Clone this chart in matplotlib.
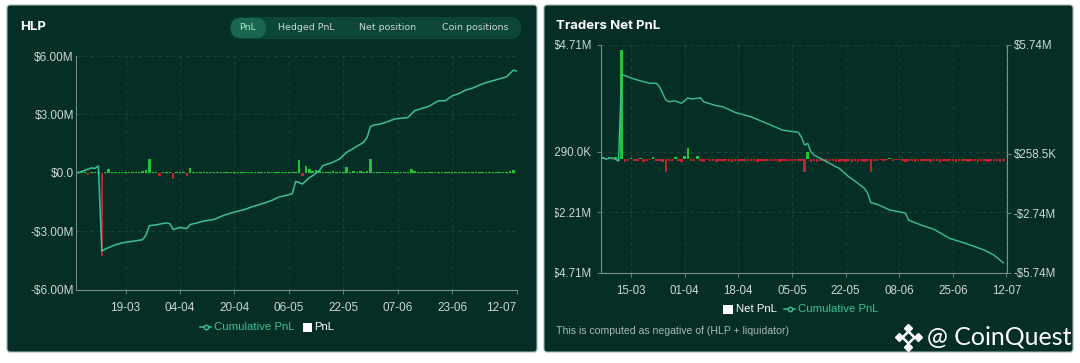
import numpy as np
import matplotlib
matplotlib.use("Agg")
import matplotlib.pyplot as plt
import matplotlib.dates as mdates
from matplotlib.patches import FancyBboxPatch, Rectangle
from matplotlib.lines import Line2D
from matplotlib.transforms import Bbox, TransformedBbox

# ---------------- data ----------------
START = np.datetime64('2023-03-01')

# HLP cumulative PnL (day offset from 1 Mar, $M)
hlp_cum_days = [4, 6, 8, 9, 10, 11, 12, 13, 15, 17, 19, 21, 23, 24, 25, 27, 28, 30, 31, 32,
                34, 35, 36, 37, 39, 41, 44, 47, 50, 53, 55, 58, 61, 63, 65, 67, 68, 69, 70, 71,
                72, 73, 75, 76, 78, 79, 81, 83, 85, 88, 89, 90, 91, 93, 95, 97, 99, 101, 103, 105,
                107, 110, 112, 114, 116, 118, 120, 122, 124, 127, 130, 132, 133]
hlp_cum_vals = [0.0, 0.12, 0.25, 0.22, 0.35, -4.03, -3.92, -3.85, -3.70, -3.60, -3.55, -3.50, -3.44, -3.20, -2.72, -2.68, -2.64, -2.58, -2.62, -2.92,
                -2.81, -2.84, -2.87, -2.66, -2.58, -2.48, -2.40, -2.18, -2.02, -1.89, -1.76, -1.60, -1.42, -1.25, -1.17, -1.08, -0.45, -0.50, -0.58, -0.42,
                -0.25, -0.15, 0.12, 0.37, 0.48, 0.54, 0.72, 1.05, 1.25, 1.57, 1.82, 2.37, 2.45, 2.51, 2.62, 2.76, 2.80, 2.84, 3.19, 3.30,
                3.40, 3.70, 3.70, 3.95, 4.07, 4.25, 4.35, 4.50, 4.63, 4.78, 4.93, 5.27, 5.23]

# HLP daily PnL ($M), first day = offset 4
hlp_pnl_first = 4
hlp_pnl = [0.03, 0.02, 0.03, -0.12, 0.02, 0.03, 0.05, -4.28, 0.04, 0.20,
           0.02, 0.03, 0.05, 0.04, 0.02, 0.06, 0.03, 0.02, 0.05, 0.08,
           0.12, 0.72, 0.04, 0.03, -0.18, 0.05, 0.04, 0.06, -0.34, 0.03,
           0.05, 0.04, -0.15, 0.26, 0.04, 0.03, 0.05, 0.02, 0.04, 0.03,
           0.05, 0.04, 0.03, 0.06, 0.04, 0.05, 0.03, 0.04, 0.05, 0.03,
           0.04, 0.05, 0.03, 0.04, 0.06, 0.03, 0.04, 0.05, 0.03, 0.04,
           0.05, 0.04, 0.03, 0.05, 0.04, 0.66, -0.15, 0.37, 0.20, 0.08,
           0.15, 0.10, 0.06, 0.05, 0.04, 0.08, 0.05, 0.06, 0.04, 0.29,
           0.06, 0.08, 0.05, 0.07, 0.06, 0.09, 0.72, 0.05, 0.03, 0.04,
           0.03, 0.02, 0.04, 0.03, 0.02, 0.03, 0.04, 0.05, 0.20, 0.08,
           0.04, 0.05, 0.03, 0.04, 0.03, 0.05, 0.04, 0.02, 0.03, 0.04,
           0.06, 0.05, 0.04, 0.03, 0.06, 0.05, 0.04, 0.03, 0.05, 0.04,
           0.03, 0.04, 0.05, 0.03, 0.04, 0.06, 0.05, 0.08, 0.15]

# Traders net PnL daily ($M), first day = offset 5
tr_pnl_first = 5
tr_pnl = [0.06, -0.03, 0.08, -0.05, 0.06, -0.08, 4.50, -0.12, -0.08, 0.05,
          -0.09, -0.10, 0.04, -0.11, -0.08, -0.06, 0.06, -0.10, -0.09, -0.11,
          -0.53, -0.08, -0.10, 0.09, -0.08, -0.11, 0.10, 0.44, -0.10, -0.08,
          0.10, -0.08, -0.15, -0.06, -0.10, -0.09, -0.11, -0.07, -0.09, -0.10,
          -0.09, -0.11, -0.07, -0.09, -0.10, -0.09, -0.07, -0.10, -0.09, -0.11,
          -0.09, -0.10, -0.08, -0.07, -0.10, -0.09, -0.11, -0.09, -0.07, -0.10,
          -0.09, -0.10, -0.08, -0.07, -0.53, 0.30, -0.15, -0.09, -0.12, -0.10,
          -0.09, -0.12, -0.10, -0.09, -0.11, -0.12, -0.10, -0.15, -0.10, -0.12,
          -0.10, -0.12, -0.10, -0.12, -0.10, -0.53, -0.08, -0.10, -0.06, -0.08,
          -0.06, 0.03, -0.08, -0.06, -0.05, -0.09, -0.14, -0.10, -0.09, -0.12,
          -0.10, -0.09, -0.07, -0.10, -0.12, -0.10, -0.09, -0.12, -0.10, -0.09,
          -0.10, -0.09, -0.12, -0.10, -0.09, -0.10, -0.12, -0.09, -0.10, -0.12,
          -0.10, -0.09, -0.12, -0.10, -0.09, -0.10, -0.14, -0.10]

# Traders cumulative PnL ($M)
tr_cum_days = [5, 6, 8, 10, 11, 13, 15, 18, 20, 22, 23, 25, 26, 28, 30, 32, 33, 35, 36, 37,
               41, 43, 47, 52, 57, 62, 64, 67, 68, 69, 70, 71, 72, 75, 79, 80, 83, 85, 88, 89,
               90, 92, 96, 100, 101, 102, 106, 110, 115, 120, 126, 129, 132]
tr_cum_vals = [0.06, -0.01, 0.06, -0.11, 4.26, 4.14, 4.02, 3.89, 3.81, 3.81, 3.64, 2.97, 2.88, 2.92, 2.80, 3.08, 3.02, 3.05, 3.08, 2.88,
               2.68, 2.63, 2.34, 2.12, 1.79, 1.45, 1.40, 1.34, 1.10, 0.70, 0.78, 0.36, 0.19, -0.06, -0.40, -0.48, -0.90, -1.12, -1.49, -1.74,
               -2.21, -2.29, -2.58, -2.70, -2.74, -3.09, -3.34, -3.55, -4.01, -4.26, -4.60, -4.85, -5.24]

hlp_yticks = [-6, -3, 0, 3, 6]
hlp_ylabels = ['-$6.00M', '-$3.00M', '$0.0', '$3.00M', '$6.00M']
hlp_xticks = ['2023-03-19', '2023-04-04', '2023-04-20', '2023-05-06', '2023-05-22',
              '2023-06-07', '2023-06-23', '2023-07-12']
tr_yticks = [4.71, 0.29, -2.21, -4.71]
tr_ylabels = ['$4.71M', '$290.0K', '-$2.21M', '-$4.71M']
tr_y2ticks = [5.74, 0.2585, -2.74, -5.74]
tr_y2labels = ['$5.74M', '$258.5K', '-$2.74M', '-$5.74M']
tr_xticks = ['2023-03-15', '2023-04-01', '2023-04-18', '2023-05-05', '2023-05-22',
             '2023-06-08', '2023-06-25', '2023-07-12']
toggle_labels = ['PnL', 'Hedged PnL', 'Net position', 'Coin positions']

# ---------------- style ----------------
BG = '#052e27'
PILL = '#0b4637'
PILL_SEL = '#1b6650'
TEAL = '#3dbf9b'
GREEN = '#22c437'
RED = '#c8202c'
TXT = '#cdd8d3'
AX = '#7d908a'
TF = ['Liberation Sans', 'DejaVu Sans']

W, H = 1080, 363
fig = plt.figure(figsize=(W / 100, H / 100), dpi=100, facecolor='white')

bg = fig.add_axes([0, 0, 1, 1])
bg.set_xlim(0, W)
bg.set_ylim(H, 0)
bg.axis('off')

for (x0, y0, x1, y1) in [(7, 5, 537, 352), (544, 5, 1073, 352)]:
    bg.add_patch(FancyBboxPatch((x0, y0), x1 - x0, y1 - y0,
                                boxstyle='round,pad=0,rounding_size=3',
                                fc=BG, ec='#9fb9b1', lw=0.8))

# titles
bg.text(20, 27, 'HLP', color='white', fontsize=9.5, fontweight='bold',
        family=['Inter', 'DejaVu Sans'], va='center', ha='left')
bg.text(556, 26, 'Traders Net PnL', color='white', fontsize=9.5, fontweight='bold',
        family=['Inter', 'DejaVu Sans'], va='center', ha='left')

# toggle pill
bg.add_patch(FancyBboxPatch((230, 17), 291, 22, boxstyle='round,pad=0,rounding_size=11',
                            fc=PILL, ec='none'))
bg.add_patch(FancyBboxPatch((231, 18), 35, 20, boxstyle='round,pad=0,rounding_size=10',
                            fc=PILL_SEL, ec='none'))
for lab, cx in zip(toggle_labels, [248, 306, 388, 475]):
    bg.text(cx, 28, lab, color=('#a8e6c8' if lab == 'PnL' else TXT), fontsize=6.8,
            family=['DejaVu Sans'], ha='center', va='center')


def fax(x0, y0, x1, y1):
    return fig.add_axes([x0 / W, 1 - y1 / H, (x1 - x0) / W, (y1 - y0) / H])


def days(lst):
    return START + np.array(lst).astype('timedelta64[D]')


def style(ax, size):
    ax.set_facecolor('none')
    for s in ax.spines.values():
        s.set_visible(False)
    ax.tick_params(colors=AX, labelcolor=TXT, labelsize=size, length=3, width=0.6)
    ax.grid(True, color='white', alpha=0.09, lw=0.7, ls=(0, (4, 3)))
    for lab in ax.get_xticklabels() + ax.get_yticklabels():
        lab.set_family(TF)


# ---------------- HLP panel ----------------
ax = fax(76, 56, 517, 289.5)
d_p = days(range(hlp_pnl_first, hlp_pnl_first + len(hlp_pnl)))
ax.bar(d_p, hlp_pnl, width=0.75, color=[GREEN if v >= 0 else RED for v in hlp_pnl], zorder=2)
ax.plot(days(hlp_cum_days), hlp_cum_vals, color=TEAL, lw=1.1, zorder=3)
ax.set_ylim(-6, 6)
ax.set_yticks(hlp_yticks)
ax.set_yticklabels(hlp_ylabels)
ax.set_xlim(np.datetime64('2023-03-04T10:00'), np.datetime64('2023-07-12T02:00'))
ax.set_xticks(np.array(hlp_xticks, dtype='datetime64[D]'))
ax.xaxis.set_major_formatter(mdates.DateFormatter('%d-%m'))
style(ax, 8.5)
ax.spines['left'].set_visible(True)
ax.spines['left'].set_color(AX)
ax.spines['left'].set_linewidth(0.7)
ax.spines['bottom'].set_visible(True)
ax.spines['bottom'].set_color(AX)
ax.spines['bottom'].set_linestyle((0, (1, 1)))
ax.spines['bottom'].set_linewidth(0.8)
ax.tick_params(axis='y', length=0, pad=1.5)
ax.tick_params(axis='x', pad=6)
xl = ax.get_xticklabels()
xl[-1].set_ha('right')
xl[-1].set_x(0)

# left legend
bg.add_line(Line2D([200, 211], [327, 327], color=TEAL, lw=1.1))
bg.plot([205.5], [327], 'o', ms=3.2, color=TEAL, mfc=BG, mew=1)
bg.text(214, 327, 'Cumulative PnL', color=TEAL, fontsize=8.2, family=TF, va='center')
bg.add_patch(Rectangle((303, 322.5), 9, 9, fc='white', ec='none'))
bg.text(314.5, 327, 'PnL', color='white', fontsize=8.2, family=TF, va='center')

# ---------------- Traders panel ----------------
axr = fax(601, 45, 1006.7, 272.7)
d_t = days(range(tr_pnl_first, tr_pnl_first + len(tr_pnl)))
axr.bar(d_t, tr_pnl, width=0.8, color=[GREEN if v >= 0 else RED for v in tr_pnl], zorder=2)
axr.set_ylim(-4.71, 4.71)
axr.set_yticks(tr_yticks)
axr.set_yticklabels(tr_ylabels)
axr.set_xlim(np.datetime64('2023-03-05T11:00'), np.datetime64('2023-07-12T02:00'))
axr.set_xticks(np.array(tr_xticks, dtype='datetime64[D]'))
axr.xaxis.set_major_formatter(mdates.DateFormatter('%d-%m'))
style(axr, 8.3)
axr.tick_params(axis='x', pad=6)
for s in ['left', 'right', 'bottom']:
    axr.spines[s].set_visible(True)
    axr.spines[s].set_color(AX)
    axr.spines[s].set_linewidth(0.8)

ax2 = axr.twinx()
ax2.set_facecolor('none')
ax2.plot(days(tr_cum_days), tr_cum_vals, color=TEAL, lw=1.0, zorder=3)
ax2.set_ylim(-5.74, 5.74)
ax2.set_yticks(tr_y2ticks)
ax2.set_yticklabels(tr_y2labels)
for s in ax2.spines.values():
    s.set_visible(False)
ax2.tick_params(colors=AX, labelcolor=TXT, labelsize=8.3, length=3, width=0.6, pad=2)
for lab in ax2.get_yticklabels():
    lab.set_family(TF)

clip = TransformedBbox(Bbox([[555 / W, 0], [1061 / W, 1]]), fig.transFigure)
for lab in axr.get_yticklabels() + ax2.get_yticklabels():
    lab.set_clip_on(True)
    lab.set_clip_box(clip)

# right legend
bg.add_patch(Rectangle((723, 304.5), 10, 9.5, fc='white', ec='none'))
bg.text(735.5, 309, 'Net PnL', color='white', fontsize=8.2, family=TF, va='center')
bg.add_line(Line2D([784, 795], [309, 309], color=TEAL, lw=1.1))
bg.plot([789.5], [309], 'o', ms=3.2, color=TEAL, mfc=BG, mew=1)
bg.text(798, 309, 'Cumulative PnL', color=TEAL, fontsize=8.2, family=TF, va='center')

bg.text(556, 331, 'This is computed as negative of (HLP + liquidator)', color='#a9b8b3',
        fontsize=7.6, family=TF, va='center')

# watermark
bg.plot([908], [337], 'D', ms=6, mfc='none', mec='white', mew=1.8)
for (mx, my) in [(898.5, 337), (917.5, 337), (908, 327.5), (908, 346.5)]:
    bg.plot([mx], [my], 'D', ms=3.8, color='white')
bg.text(927, 337, '@ CoinQuest', color='white', fontsize=18, family=['Lato', 'DejaVu Sans'],
        va='center', ha='left')

fig.savefig('out.png', dpi=100, facecolor='white')
